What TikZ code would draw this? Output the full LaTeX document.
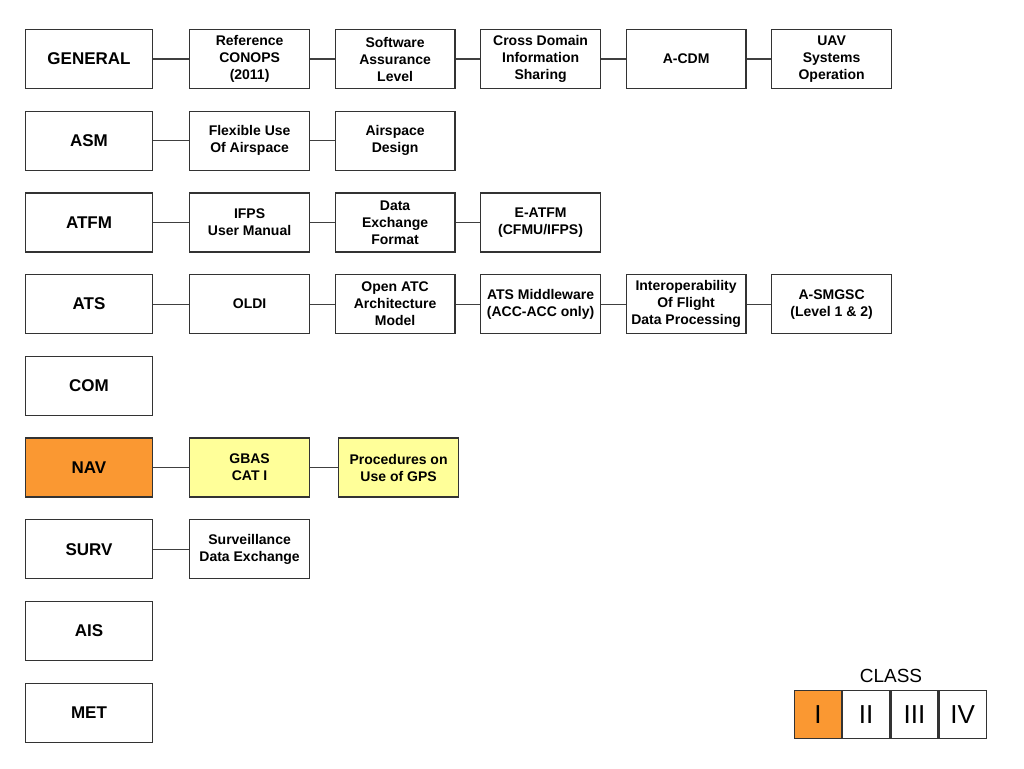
\documentclass[tikz,border=0pt]{standalone}
\usepackage{fontspec}
\setmainfont{Liberation Sans}
\usetikzlibrary{positioning}
\definecolor{navorange}{RGB}{250,152,50}
\definecolor{navyellow}{RGB}{255,255,153}
\tikzset{area node/.style={rectangle,draw=black!80,line width=1.2pt,
minimum width=127pt,minimum height=59pt,font=\fontsize{17}{20}\selectfont\bfseries},
doc node/.style={rectangle,draw=black!80,line width=1.2pt,minimum width=119.8pt,
minimum height=59pt,inner sep=1pt,align=center,font=\fontsize{14}{17}\selectfont\bfseries},
class node/.style={rectangle,draw=black!80,line width=1.2pt,minimum width=47pt,
minimum height=48pt,font=\fontsize{26}{30}\selectfont},
link/.style={draw=black!75,line width=1.2pt}}

\begin{document}
\begin{tikzpicture}[x=1pt,y=-1pt]
\useasboundingbox (0,0) rectangle (1024,768);
% areas
\node[area node] (gen) at (89,59) {GENERAL};
\node[area node] (asm) [below=21.5pt of gen] {ASM};
\node[area node] (atfm) [below=21.5pt of asm] {ATFM};
\node[area node] (ats) [below=21.5pt of atfm] {ATS};
\node[area node] (com) [below=21.5pt of ats] {COM};
\node[area node,fill=navorange] (nav) [below=21.5pt of com] {NAV};
\node[area node] (surv) [below=21.5pt of nav] {SURV};
\node[area node] (ais) [below=21.5pt of surv] {AIS};
\node[area node] (met) [below=21.5pt of ais] {MET};

% documents
\node[doc node] (gen1) [right=36pt of gen] {Reference\\CONOPS\\(2011)};
\node[doc node] (gen2) [right=24.5pt of gen1] {Software\\Assurance\\Level};
\node[doc node] (gen3) [right=24.5pt of gen2] {Cross Domain\\Information\\Sharing};
\node[doc node] (gen4) [right=24.5pt of gen3] {A-CDM};
\node[doc node] (gen5) [right=24.5pt of gen4] {UAV\\Systems\\Operation};

\node[doc node] (asm1) [right=36pt of asm] {Flexible Use\\Of Airspace};
\node[doc node] (asm2) [right=24.5pt of asm1] {Airspace\\Design};

\node[doc node] (atfm1) [right=36pt of atfm] {IFPS\\User Manual};
\node[doc node] (atfm2) [right=24.5pt of atfm1] {Data\\Exchange\\Format};
\node[doc node] (atfm3) [right=24.5pt of atfm2] {E-ATFM\\(CFMU/IFPS)};

\node[doc node] (ats1) [right=36pt of ats] {OLDI};
\node[doc node] (ats2) [right=24.5pt of ats1] {Open ATC\\Architecture\\Model};
\node[doc node] (ats3) [right=24.5pt of ats2] {ATS Middleware\\(ACC-ACC only)};
\node[doc node] (ats4) [right=24.5pt of ats3] {Interoperability\\Of Flight\\Data Processing};
\node[doc node] (ats5) [right=24.5pt of ats4] {A-SMGSC\\(Level 1 \& 2)};

\node[doc node,fill=navyellow] (nav1) [right=36pt of nav] {GBAS\\CAT I};
\node[doc node,fill=navyellow] (nav2) [right=28pt of nav1] {Procedures on\\Use of GPS};

\node[doc node] (surv1) [right=36pt of surv] {Surveillance\\Data Exchange};

\path[link]
(gen)--(gen1)--(gen2)--(gen3)--(gen4)--(gen5)
(asm)--(asm1)--(asm2)
(atfm)--(atfm1)--(atfm2)--(atfm3)
(ats)--(ats1)--(ats2)--(ats3)--(ats4)--(ats5)
(nav)--(nav1)--(nav2)
(surv)--(surv1);

% class legend
\node[font=\fontsize{19}{22}\selectfont] (cls) at (891,676) {CLASS};
\node[class node,fill=navorange] (cls1) at (818,714.5) {I};
\node[class node] (cls2) [right=0pt of cls1] {II};
\node[class node] (cls3) [right=0pt of cls2] {III};
\node[class node] (cls4) [right=0pt of cls3] {IV};
\end{tikzpicture}
\end{document}
